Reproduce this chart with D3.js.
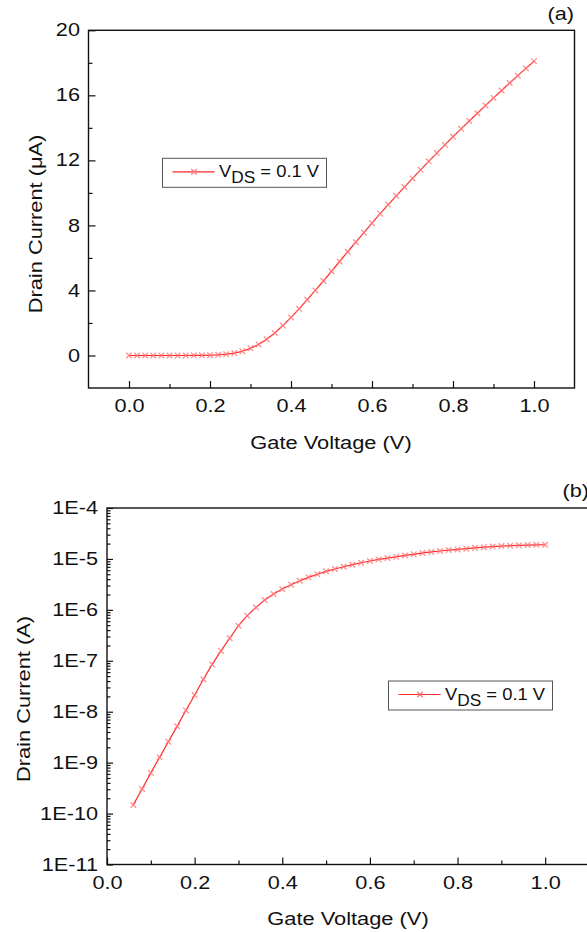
<!DOCTYPE html>
<html>
<head>
<meta charset="utf-8">
<script src="https://cdn.jsdelivr.net/npm/d3@7"></script>
<style>
  html, body { margin: 0; padding: 0; background: #fff; }
  svg { display: block; font-family: "Liberation Sans", Arial, sans-serif; }
</style>
</head>
<body>
<svg id="chart" width="587" height="932"></svg>
<script>
// --- Daten ---
// Panel (a): linear, Strom in µA
const gateVoltageA = [0.00, 0.02, 0.04, 0.06, 0.08, 0.10, 0.12, 0.14, 0.16, 0.18,
  0.20, 0.22, 0.24, 0.26, 0.28, 0.30, 0.32, 0.34, 0.36, 0.38,
  0.40, 0.42, 0.44, 0.46, 0.48, 0.50, 0.52, 0.54, 0.56, 0.58,
  0.60, 0.62, 0.64, 0.66, 0.68, 0.70, 0.72, 0.74, 0.76, 0.78,
  0.80, 0.82, 0.84, 0.86, 0.88, 0.90, 0.92, 0.94, 0.96, 0.98, 1.00];
const drainCurrentUA = [0, 0, 0, 0, 0, 0, 0, 0, 0.01, 0.01,
  0.02, 0.04, 0.08, 0.15, 0.26, 0.44, 0.68, 1.0, 1.38, 1.84,
  2.34, 2.87, 3.43, 4.0, 4.58, 5.18, 5.78, 6.38, 6.97, 7.56,
  8.14, 8.72, 9.28, 9.82, 10.36, 10.89, 11.42, 11.94, 12.45, 12.95,
  13.45, 13.94, 14.42, 14.9, 15.37, 15.84, 16.3, 16.76, 17.21, 17.66, 18.1];

// Panel (b): logarithmisch, Strom in A
const gateVoltageB = [0.06, 0.08, 0.10, 0.12, 0.14, 0.16, 0.18,
  0.20, 0.22, 0.24, 0.26, 0.28, 0.30, 0.32, 0.34, 0.36, 0.38,
  0.40, 0.42, 0.44, 0.46, 0.48, 0.50, 0.52, 0.54, 0.56, 0.58,
  0.60, 0.62, 0.64, 0.66, 0.68, 0.70, 0.72, 0.74, 0.76, 0.78,
  0.80, 0.82, 0.84, 0.86, 0.88, 0.90, 0.92, 0.94, 0.96, 0.98, 1.00];
const drainCurrentA = [1.48e-10, 3.04e-10, 6.3e-10, 1.27e-9, 2.57e-9, 5.16e-9, 1.06e-8,
  2.13e-8, 4.34e-8, 8.5e-8, 1.56e-7, 2.77e-7, 4.9e-7, 7.7e-7, 1.12e-6, 1.56e-6, 2.05e-6,
  2.57e-6, 3.12e-6, 3.73e-6, 4.35e-6, 4.99e-6, 5.71e-6, 6.34e-6, 7.03e-6, 7.7e-6, 8.42e-6,
  9.1e-6, 9.8e-6, 1.04e-5, 1.10e-5, 1.17e-5, 1.23e-5, 1.31e-5, 1.37e-5, 1.43e-5, 1.49e-5,
  1.54e-5, 1.59e-5, 1.65e-5, 1.70e-5, 1.75e-5, 1.79e-5, 1.82e-5, 1.85e-5, 1.87e-5, 1.89e-5, 1.9e-5];

// Achsen-Ticks
const xMajor = [0.0, 0.2, 0.4, 0.6, 0.8, 1.0];
const xMinor = [0.1, 0.3, 0.5, 0.7, 0.9];
const yMajorA = [0, 4, 8, 12, 16, 20];
const yMinorA = [2, 6, 10, 14, 18];
const yDecadesB = [1e-11, 1e-10, 1e-9, 1e-8, 1e-7, 1e-6, 1e-5, 1e-4];
const legendLabel = { main: "V", sub: "DS", rest: " = 0.1 V" };

// --- Stil ---
const red = "#ff2a2a";
const markRed = "#ff7b7b";
const tickFont = 17.5, tickStretch = 1.24;
const titleFont = 18.5, titleStretch = 1.18;

const svg = d3.select("#chart");

// Text horizontal strecken (Origin-Export wirkt breiter)
function stretchText(sel, sx) {
  sel.each(function () {
    const prev = this.getAttribute("transform") || "";
    this.setAttribute("transform", (prev + ` scale(${sx},1)`).trim());
  });
}

function styleAxis(g, font) {
  g.select(".domain").remove();
  g.selectAll("line").attr("stroke", "#111").attr("stroke-width", 1.2);
  g.selectAll("text").attr("fill", "#111").attr("font-size", font)
    .attr("font-family", "Liberation Sans, Arial, sans-serif");
}

const marker = d3.symbol().type(d3.symbolTimes || d3.symbolCross).size(22);

function drawSeries(g, xs, ys, x, y) {
  const pts = xs.map((v, i) => [v, ys[i]]);
  g.append("path")
    .datum(pts)
    .attr("fill", "none")
    .attr("stroke", red)
    .attr("stroke-width", 1.2)
    .attr("d", d3.line().x(d => x(d[0])).y(d => y(d[1])));
  g.selectAll("path.mk")
    .data(pts)
    .enter()
    .append("path")
    .attr("class", "mk")
    .attr("transform", d => `translate(${x(d[0])},${y(d[1])})`)
    .attr("d", marker)
    .attr("fill", "none")
    .attr("stroke", markRed)
    .attr("stroke-opacity", 0.85)
    .attr("stroke-width", 1.3);
}

function drawLegend(left, top) {
  const lg = svg.append("g").attr("transform", `translate(${left},${top})`);
  lg.append("rect")
    .attr("width", 164).attr("height", 29)
    .attr("fill", "#fff").attr("stroke", "#555").attr("stroke-width", 1);
  lg.append("line")
    .attr("x1", 10).attr("x2", 52).attr("y1", 13.5).attr("y2", 13.5)
    .attr("stroke", red).attr("stroke-width", 1.2);
  lg.append("path")
    .attr("transform", "translate(31.5,13.5)")
    .attr("d", marker)
    .attr("fill", "none").attr("stroke", markRed).attr("stroke-width", 1.3);
  const t = lg.append("text")
    .attr("transform", "translate(56.5,19)")
    .attr("font-size", 17).attr("fill", "#111");
  t.append("tspan").text(legendLabel.main);
  t.append("tspan").attr("dy", 6).attr("font-size", 16).text(legendLabel.sub);
  t.append("tspan").attr("dy", -6).text(legendLabel.rest);
  stretchText(t, 1.08);
}

function addText(txt, tx, ty, opts) {
  const t = svg.append("text")
    .attr("transform", `translate(${tx},${ty})${opts.rotate ? " rotate(-90)" : ""}`)
    .attr("text-anchor", opts.anchor || "middle")
    .attr("font-size", opts.size)
    .attr("fill", "#111")
    .text(txt);
  stretchText(t, opts.stretch);
  return t;
}

// ================= Panel (a) =================
const ax = { left: 88.5, right: 574.5, top: 30.3, bottom: 388 };
const xA = d3.scaleLinear().domain([-0.1, 1.1]).range([ax.left, ax.right]);
const yA = d3.scaleLinear().domain([-2, 20]).range([ax.bottom, ax.top]);

svg.append("g").attr("transform", `translate(0,${ax.bottom})`)
  .call(d3.axisBottom(xA).tickValues(xMinor).tickSize(-4).tickFormat(""))
  .call(g => styleAxis(g, tickFont));
svg.append("g").attr("transform", `translate(0,${ax.bottom})`)
  .call(d3.axisBottom(xA).tickValues(xMajor).tickSize(-7).tickPadding(12).tickFormat(d3.format(".1f")))
  .call(g => styleAxis(g, tickFont))
  .call(g => stretchText(g.selectAll("text"), tickStretch));
svg.append("g").attr("transform", `translate(${ax.left},0)`)
  .call(d3.axisLeft(yA).tickValues(yMinorA).tickSize(-4).tickFormat(""))
  .call(g => styleAxis(g, tickFont));
svg.append("g").attr("transform", `translate(${ax.left},0)`)
  .call(d3.axisLeft(yA).tickValues(yMajorA).tickSize(-7).tickFormat(d3.format("d")))
  .call(g => styleAxis(g, tickFont))
  .call(g => g.selectAll("text").attr("x", -8.5 / tickStretch))
  .call(g => stretchText(g.selectAll("text"), tickStretch));

svg.append("rect")
  .attr("x", ax.left).attr("y", ax.top)
  .attr("width", ax.right - ax.left).attr("height", ax.bottom - ax.top)
  .attr("fill", "none").attr("stroke", "#111").attr("stroke-width", 1.4);

drawSeries(svg.append("g"), gateVoltageA, drainCurrentUA, xA, yA);
drawLegend(162.5, 158.3);

addText("Gate Voltage (V)", 331, 449, { size: titleFont, stretch: titleStretch });
addText("Drain Current (\u03bcA)", 42, 224, { size: titleFont, stretch: titleStretch, rotate: true });
addText("(a)", 574, 20, { size: tickFont, stretch: tickStretch, anchor: "end" });

// ================= Panel (b) =================
const bx = { left: 107, right: 589, top: 508, bottom: 864.5 };
const xB = d3.scaleLinear().domain([0, 1.1]).range([bx.left, bx.right]);
const yB = d3.scaleLog().domain([1e-11, 1e-4]).range([bx.bottom, bx.top]);

const yMinorB = [];
yDecadesB.slice(0, -1).forEach(d => { for (let k = 2; k <= 9; k++) yMinorB.push(d * k); });

svg.append("g").attr("transform", `translate(0,${bx.bottom})`)
  .call(d3.axisBottom(xB).tickValues(xMinor).tickSize(-4).tickFormat(""))
  .call(g => styleAxis(g, tickFont));
svg.append("g").attr("transform", `translate(0,${bx.bottom})`)
  .call(d3.axisBottom(xB).tickValues(xMajor).tickSize(-7).tickPadding(12).tickFormat(d3.format(".1f")))
  .call(g => styleAxis(g, tickFont))
  .call(g => stretchText(g.selectAll("text"), tickStretch));
svg.append("g").attr("transform", `translate(${bx.left},0)`)
  .call(d3.axisLeft(yB).tickValues(yMinorB).tickSize(-3.5).tickFormat(""))
  .call(g => styleAxis(g, tickFont));
svg.append("g").attr("transform", `translate(${bx.left},0)`)
  .call(d3.axisLeft(yB).tickValues(yDecadesB).tickSize(-6)
    .tickFormat(d => "1E" + Math.round(Math.log10(d))))
  .call(g => styleAxis(g, tickFont))
  .call(g => g.selectAll("text").attr("x", -9 / tickStretch))
  .call(g => stretchText(g.selectAll("text"), tickStretch));

svg.append("rect")
  .attr("x", bx.left).attr("y", bx.top)
  .attr("width", bx.right - bx.left).attr("height", bx.bottom - bx.top)
  .attr("fill", "none").attr("stroke", "#111").attr("stroke-width", 1.4);

drawSeries(svg.append("g"), gateVoltageB, drainCurrentA, xB, yB);
drawLegend(388.5, 681);

addText("Gate Voltage (V)", 348, 925, { size: titleFont, stretch: titleStretch });
addText("Drain Current (A)", 30, 699, { size: titleFont, stretch: titleStretch, rotate: true });
addText("(b)", 589, 497, { size: tickFont, stretch: tickStretch, anchor: "end" });
</script>
</body>
</html>
